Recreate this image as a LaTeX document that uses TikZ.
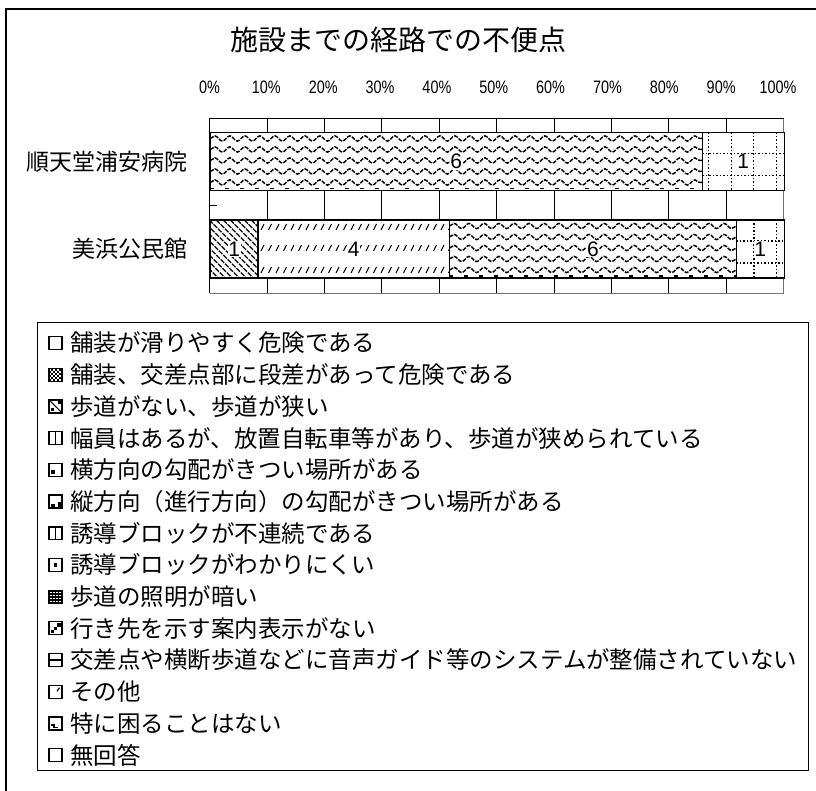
\documentclass[tikz,border=0pt]{standalone}
\usepackage{fontspec}
\setmainfont{Liberation Sans}
\newfontfamily\jpfont{Noto Sans CJK JP}
\usetikzlibrary{patterns, decorations.pathmorphing}

\newcommand{\narrow}[1]{\scalebox{0.8}[1]{#1}}

\tikzstyle{title} =
[font=\jpfont\fontsize{28}{30}\selectfont, inner sep=0pt]
\tikzstyle{catlabel} =
[anchor=east, font=\jpfont\fontsize{23}{26}\selectfont, inner sep=0pt]
\tikzstyle{axlabel} =
[font=\fontsize{18}{20}\selectfont, inner sep=0pt]
\tikzstyle{legtext} =
[anchor=west, font=\jpfont\fontsize{23.5}{26}\selectfont, inner sep=0pt]
\tikzstyle{gridline} = [draw=black, line width=0.8pt]
\tikzstyle{bar} =
[rectangle, anchor=west, draw=black, fill=white, line width=1.4pt,
minimum height=58pt, inner sep=0pt]
\tikzstyle{barnum} =
[fill=white, inner sep=0.6pt, font=\fontsize{21}{23}\selectfont]
\tikzstyle{wavyline} =
[decorate, decoration={snake, segment length=15pt, amplitude=2.6pt},
line width=1.5pt, dash pattern=on 4pt off 1.3pt]
\tikzstyle{dotline} = [line width=1.2pt, dash pattern=on 1.5pt off 2pt]
\tikzstyle{mk} =
[rectangle, draw=black, fill=white, line width=1.2pt, minimum size=13pt,
inner sep=0pt]

\tikzset{
  wave/.style={path picture={
    \foreach \dy in {6,17,28,39,50}
      \draw[black, wavyline] ([yshift={-\dy*1pt}]path picture bounding box.north west)
        -- ([yshift={-\dy*1pt}]path picture bounding box.north east);
    \draw[black, line width=1.8pt, dash pattern=on 3.5pt off 11.5pt]
      ([yshift=2pt]path picture bounding box.south west)
      -- ([yshift=2pt]path picture bounding box.south east);
  }},
  diag/.style={path picture={
    \foreach \dx in {-64,-57,...,50}
      \draw[black, line width=1.2pt, dash pattern=on 5pt off 1.2pt]
        ([xshift=\dx*1pt]path picture bounding box.north west) -- ++(62pt,-62pt);
  }},
  slash/.style={path picture={
    \foreach \dy in {7,28,50}
      \foreach \dx in {3,10.5,...,195}
        \draw[black, line width=1.1pt]
          ([xshift=\dx*1pt, yshift={-(\dy+3)*1pt}]path picture bounding box.north west)
          -- ++(3pt,6pt);
  }},
  dotgrid/.style={path picture={
    \foreach \dx in {#1}
      \draw[black, dotline] ([xshift=\dx*1pt]path picture bounding box.north west)
        -- ([xshift=\dx*1pt]path picture bounding box.south west);
    \foreach \dy in {21,43}
      \draw[black, dotline] ([yshift={-\dy*1pt}]path picture bounding box.north west)
        -- ([yshift={-\dy*1pt}]path picture bounding box.north east);
  }},
  % legend markers
  mkplain/.style={},
  mkcheck/.style={path picture={
    \foreach \i in {0,2,4,6} \foreach \j in {0,2,4,6} {
      \fill[black] ([xshift=\i*2pt, yshift=\j*2pt]path picture bounding box.south west)
        rectangle ++(2pt,2pt);
      \fill[black] ([xshift=\i*2pt+2pt, yshift=\j*2pt+2pt]path picture bounding box.south west)
        rectangle ++(2pt,2pt);
    }
  }},
  mkdiag/.style={path picture={
    \draw[black, line width=1.1pt] (path picture bounding box.north west)
      -- (path picture bounding box.south east);
    \fill[black] ([xshift=-4.5pt,yshift=-1.5pt]path picture bounding box.north east) rectangle ++(3pt,-3pt);
    \fill[black] ([xshift=1.5pt,yshift=4.5pt]path picture bounding box.south west) rectangle ++(3pt,-3pt);
  }},
  mksplit/.style={path picture={
    \draw[black, line width=1.2pt] (path picture bounding box.north)
      -- (path picture bounding box.south);
  }},
  mkcorner/.style={path picture={
    \fill[black] ([xshift=2pt,yshift=2pt]path picture bounding box.south west) rectangle ++(4pt,4pt);
  }},
  mkhalf/.style={path picture={
    \fill[black] ([xshift=1.5pt,yshift=1.5pt]path picture bounding box.south west) rectangle ++(4.5pt,3pt);
    \fill[black] ([xshift=-1.5pt,yshift=1.5pt]path picture bounding box.south east) rectangle ++(-3pt,4.5pt);
  }},
  mkbars/.style={path picture={
    \draw[black, line width=1.8pt] (path picture bounding box.north)
      -- (path picture bounding box.south);
    \draw[black, line width=3pt] (path picture bounding box.north west)
      -- (path picture bounding box.north east);
  }},
  mkdot/.style={path picture={
    \fill[black] ([xshift=-1.7pt,yshift=-1.7pt]path picture bounding box.center) rectangle ++(3.4pt,3.4pt);
  }},
  mkdense/.style={path picture={
    \fill[black] (path picture bounding box.south west) rectangle (path picture bounding box.north east);
    \foreach \i in {0,3,6,9} \foreach \j in {0,3,6,9}
      \fill[white] ([xshift=\i*1pt+1pt, yshift=\j*1pt+1pt]path picture bounding box.south west)
        rectangle ++(1.5pt,1.5pt);
  }},
  mkdots/.style={path picture={
    \fill[black] ([xshift=-5pt,yshift=-1.5pt]path picture bounding box.north east) rectangle ++(3.5pt,-3.5pt);
    \fill[black] ([xshift=-1.7pt,yshift=-1.7pt]path picture bounding box.center) rectangle ++(3.4pt,3.4pt);
    \fill[black] ([xshift=1.5pt,yshift=5pt]path picture bounding box.south west) rectangle ++(3.5pt,-3.5pt);
  }},
  mkbar/.style={path picture={
    \draw[black, line width=1.2pt] (path picture bounding box.west)
      -- (path picture bounding box.east);
  }},
  mktick/.style={path picture={
    \draw[black, line width=1.2pt] ([xshift=-2.5pt,yshift=-2.5pt]path picture bounding box.north east)
      -- ++(-2.5pt,-3.5pt);
  }},
  mkfoot/.style={path picture={
    \draw[black, line width=1.2pt] ([xshift=2pt,yshift=5pt]path picture bounding box.south west)
      -- ++(3pt,0pt) -- ++(0pt,-2.5pt) -- ++(4pt,0pt);
  }}
}

\begin{document}
\begin{tikzpicture}[x=1pt, y=-1pt]
  \useasboundingbox (0,0) rectangle (816,791);
  % frame and title
  \draw[line width=2pt] (6,800) -- (6,9) -- (830,9);
  \node [title] (title) at (398,40) {施設までの経路での不便点};
  %
  % axis labels and grid
  \foreach \p [count=\i from 0] in {0,10,...,100}
    \node [axlabel] (ax\p) at ({209.5+56.85*\i},87) {\narrow{\p\%}};
  \foreach \i in {1,...,9}
    \draw [gridline] ({209.5+57.4*\i},118) -- ({209.5+57.4*\i},293);
  \draw [draw=black!55, line width=0.9pt] (209.5,293) -- (783.5,293) -- (783.5,118);
  \draw [black, line width=0.9pt] (783.5,118) -- (209.5,118) -- (209.5,293);
  \draw [black, line width=0.9pt] (209.5,205.5) -- (216.5,205.5);
  %
  % categories
  \node [catlabel] (junten) at (188,161.5) {順天堂浦安病院};
  \node [catlabel] (mihama) at (188,249) {美浜公民館};
  %
  % bars
  \node [bar, wave, minimum width=492pt] (junten6) at (209.5,161.5) {};
  \node [bar, dotgrid={6.5,29,51.5,74}, minimum width=82pt] (junten1) at (701.5,161.5) {};
  \node [bar, diag, minimum width=47.8pt] (mihama1) at (209.5,249) {};
  \node [bar, slash, minimum width=191.4pt] (mihama4) at (257.3,249) {};
  \node [bar, wave, minimum width=287pt] (mihama6) at (448.7,249) {};
  \node [bar, dotgrid={17.5,40}, minimum width=47.8pt] (mihamaN) at (735.7,249) {};
  \node [barnum] (junten6num) at (junten6.center) {6};
  \node [barnum] (junten1num) at (junten1.center) {1};
  \node [barnum] (mihama1num) at (mihama1.center) {1};
  \node [barnum] (mihama4num) at (mihama4.center) {4};
  \node [barnum] (mihama6num) at (mihama6.center) {6};
  \node [barnum] (mihamaNnum) at (mihamaN.center) {1};
  %
  % legend
  \node [rectangle, draw=black, line width=0.9pt, anchor=north west,
    minimum width=771pt, minimum height=448pt] (legend) at (37,322) {};
  \foreach \s [count=\k] in {mkplain,mkcheck,mkdiag,mksplit,mkcorner,mkhalf,mkbars,
      mkdot,mkdense,mkdots,mkbar,mktick,mkfoot,mkplain}
    \node [mk, \s] (mk\k) at (55.5,{343+31.7*(\k-1)}) {};
  \foreach \t [count=\k] in {{舗装が滑りやすく危険である},
      {舗装、交差点部に段差があって危険である},
      {歩道がない、歩道が狭い},
      {幅員はあるが、放置自転車等があり、歩道が狭められている},
      {横方向の勾配がきつい場所がある},
      {縦方向（進行方向）の勾配がきつい場所がある},
      {誘導ブロックが不連続である},
      {誘導ブロックがわかりにくい},
      {歩道の照明が暗い},
      {行き先を示す案内表示がない},
      {交差点や横断歩道などに音声ガイド等のシステムが整備されていない},
      {その他},
      {特に困ることはない},
      {無回答}}
    \node [legtext] (key\k) at (70,{343+31.7*(\k-1)}) {\t};
\end{tikzpicture}
\end{document}
